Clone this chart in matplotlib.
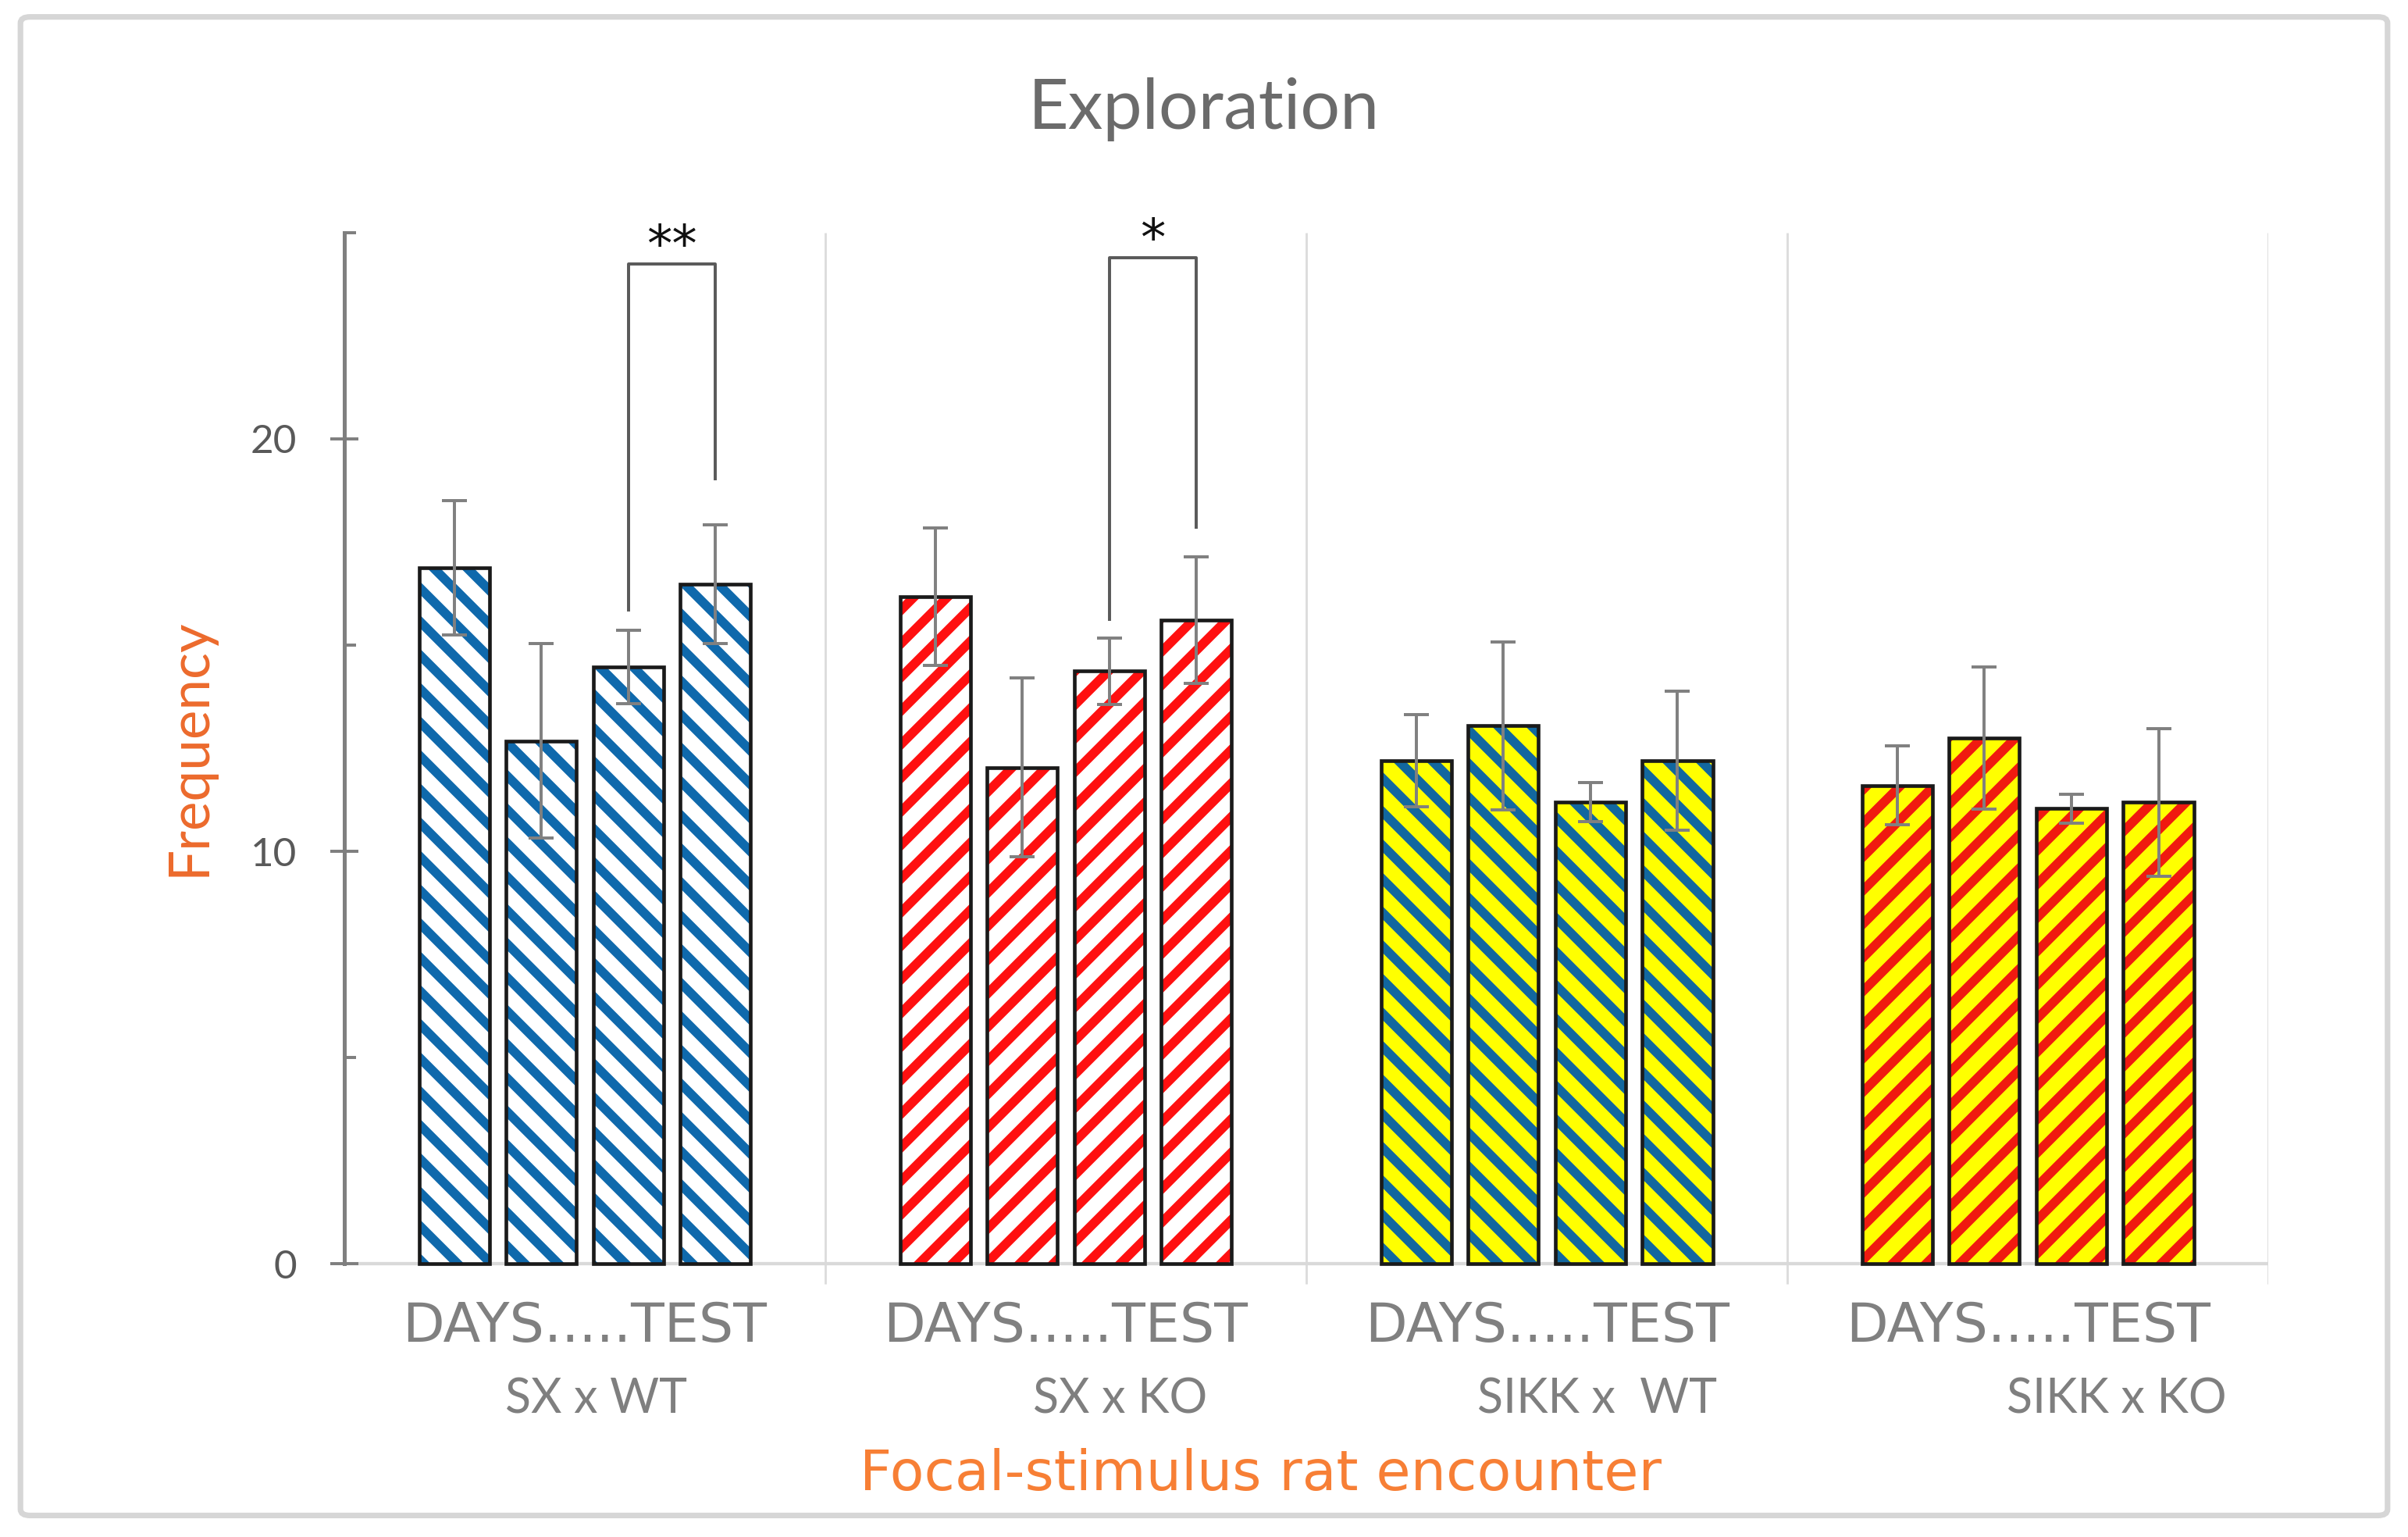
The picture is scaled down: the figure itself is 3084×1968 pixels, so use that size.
import matplotlib
matplotlib.use('Agg')
import matplotlib.pyplot as plt
import matplotlib.transforms as mtransforms
from matplotlib.patches import FancyBboxPatch
import numpy as np

# ---------------- data ----------------
group_labels = ['SX x WT', 'SX x KO', 'SIKK x  WT', 'SIKK x KO']
period_label = 'DAYS.....TEST'

sx_wt_mean = [16.87, 12.68, 14.47, 16.48]
sx_wt_err = [1.63, 2.35, 0.89, 1.44]
sx_ko_mean = [16.17, 12.03, 14.37, 15.61]
sx_ko_err = [1.67, 2.17, 0.80, 1.53]
sikk_wt_mean = [12.20, 13.04, 11.19, 12.20]
sikk_wt_err = [1.12, 2.04, 0.47, 1.68]
sikk_ko_mean = [11.60, 12.75, 11.04, 11.19]
sikk_ko_err = [0.96, 1.72, 0.35, 1.79]

# significance brackets between the 3rd and 4th bar of a group
sig_groups = [0, 1]
sig_bottom_left = [15.86, 15.62]
sig_bottom_right = [19.04, 17.86]
sig_top = [24.25, 24.40]
sig_text = ['**', '*']

title = 'Exploration'
ylabel = 'Frequency'
xlabel = 'Focal-stimulus rat encounter'

# ---------------- style ----------------
plt.rcParams['font.family'] = ['Lato', 'DejaVu Sans']
plt.rcParams['hatch.linewidth'] = 3.3

means = [sx_wt_mean, sx_ko_mean, sikk_wt_mean, sikk_ko_mean]
errs = [sx_wt_err, sx_ko_err, sikk_wt_err, sikk_ko_err]
fills = ['white', 'white', '#FFFF00', '#FFFF00']
stripes = ['#0F69AC', '#FF1010', '#12679F', '#F01A10']
hatches = ['\\\\', '//', '\\\\', '//']
label_shift = [0.13, 0.62, 0.58, 1.02]

dpi = 258
fig = plt.figure(figsize=(3084 / dpi, 1968 / dpi), dpi=dpi)
fig.patch.set_facecolor('white')

border = FancyBboxPatch((0.0085, 0.014), 0.983, 0.975, boxstyle='round,pad=0,rounding_size=0.004',
                        transform=fig.transFigure, facecolor='none', edgecolor='#d6d6d6',
                        linewidth=2.0, zorder=0)
fig.patches.append(border)

ax = fig.add_axes([0.1430, 0.1510, 0.7990, 0.7110])
ax.set_facecolor('none')

W = 5.52
bar_w = 0.807
offsets = np.arange(4) - 1.5
centers = []
for g in range(4):
    gc = g * W + W / 2
    centers.append(gc)
    x = gc + offsets
    ax.bar(x, means[g], width=bar_w, color=fills[g], edgecolor=stripes[g], linewidth=0,
           hatch=hatches[g], zorder=2)
    ax.bar(x, means[g], width=bar_w, fill=False, edgecolor='#1a1a1a', linewidth=1.3, zorder=3)
    ax.errorbar(x, means[g], yerr=errs[g], fmt='none', ecolor='#808080', elinewidth=1.1,
                capsize=4.4, capthick=1.1, zorder=4)

# group dividers and baseline
for g in range(1, 5):
    ax.plot([g * W, g * W], [-0.5, 25], color='#dcdcdc', linewidth=0.8, zorder=1,
            solid_capstyle='butt')
ax.plot([0, 4 * W], [0, 0], color='#d9d9d9', linewidth=1.2, zorder=1)

# significance brackets
for k in range(len(sig_groups)):
    g = sig_groups[k]
    xa = centers[g] + offsets[2]
    xb = centers[g] + offsets[3]
    ax.plot([xa, xa, xb, xb], [sig_bottom_left[k], sig_top[k], sig_top[k], sig_bottom_right[k]],
            color='#5a5a5a', linewidth=1.1, zorder=4)
    ax.text((xa + xb) / 2, sig_top[k] + 0.05, sig_text[k], ha='center', va='baseline',
            fontsize=18, color='#111111', family=['DejaVu Sans'])

ax.set_xlim(0, 4 * W)
ax.set_ylim(-1, 25.5)
for s in ['top', 'right', 'bottom']:
    ax.spines[s].set_visible(False)
ax.spines['left'].set_bounds(0, 25)
ax.spines['left'].set_color('#7f7f7f')
ax.spines['left'].set_linewidth(1.4)
ax.set_xticks([])
ax.set_yticks([0, 10, 20])
ax.set_yticks([5, 15, 25], minor=True)
ax.tick_params(axis='y', which='major', direction='inout', length=9.8, width=1.1,
               color='#7f7f7f', pad=12, labelsize=14.3, labelcolor='#595959')
ax.tick_params(axis='y', which='minor', direction='in', length=4.2, width=1.1, color='#7f7f7f')

trans = mtransforms.blended_transform_factory(ax.transData, fig.transFigure)
for g in range(4):
    ax.text(centers[g], 0.127, period_label, transform=trans, ha='center', va='baseline',
            fontsize=19.5, color='#808080', family=['DejaVu Sans'])
    ax.text(centers[g] + label_shift[g], 0.0803, group_labels[g], transform=trans, ha='center',
            va='baseline', fontsize=17, color='#7f7f7f')

fig.text(0.500, 0.916, title, ha='center', va='baseline', fontsize=25, color='#6b6b6b')
fig.text(0.0785, 0.514, ylabel, ha='center', va='center', rotation=90, fontsize=19.8,
         color='#EC6A2C')
fig.text(0.5234, 0.0305, xlabel, ha='center', va='baseline', fontsize=20, color='#F77F35',
         family=['DejaVu Sans'])

fig.savefig('out.png', dpi=dpi, facecolor='white')
